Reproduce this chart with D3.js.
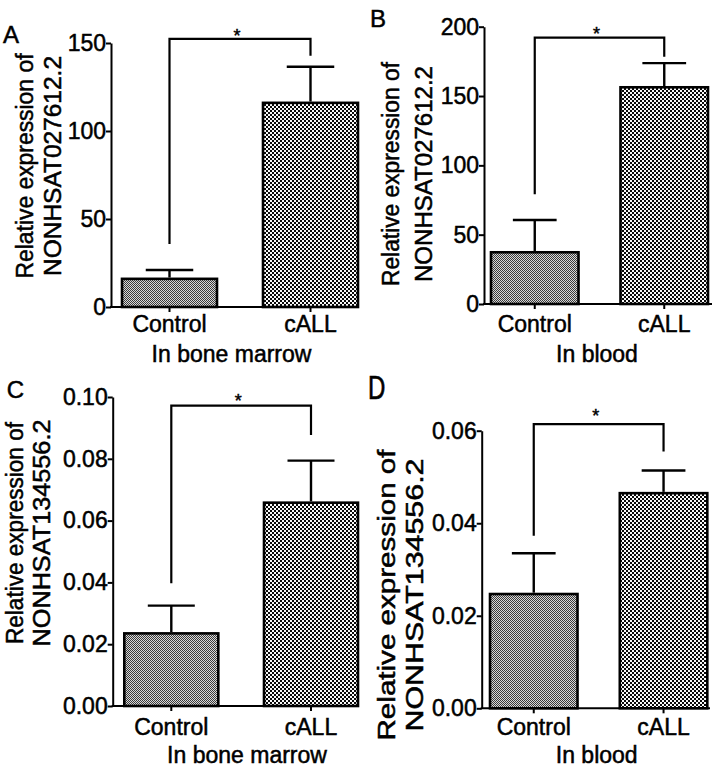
<!DOCTYPE html>
<html>
<head>
<meta charset="utf-8">
<script src="https://cdn.jsdelivr.net/npm/d3@7/dist/d3.min.js"></script>
<style>
  html, body { margin: 0; padding: 0; background: #fff; }
  svg { display: block; }
  text { font-family: "Liberation Sans", Arial, Helvetica, sans-serif; fill: #000; stroke: #000; stroke-width: 0.5px; }
</style>
</head>
<body>
<svg id="chart" width="720" height="771"></svg>
<script>
// ---------------- DATA ----------------
const groups = ["Control", "cALL"];
const panelLetters = ["A", "B", "C", "D"];
const xTitles = ["In bone marrow", "In blood", "In bone marrow", "In blood"];
const yTitleLine1 = "Relative expression of";
const yTitleLine2 = ["NONHSAT027612.2", "NONHSAT027612.2", "NONHSAT134556.2", "NONHSAT134556.2"];

const meanA = [16, 116];
const semA  = [5, 20.5];
const meanB = [37.3, 156.3];
const semB  = [23.3, 17.4];
const meanC = [0.0235, 0.0658];
const semC  = [0.009, 0.0136];
const meanD = [0.0247, 0.0465];
const semD  = [0.0088, 0.0049];

const ticksA = [0, 50, 100, 150];
const ticksB = [0, 50, 100, 150, 200];
const ticksC = [0, 0.02, 0.04, 0.06, 0.08, 0.10];
const ticksD = [0, 0.02, 0.04, 0.06];

// significance bracket: [left end, bracket level, right end]
const sigA = [35.8, 152.3, 142.8];
const sigB = [79.1, 192.1, 178.4];
const sigC = [0.0397, 0.0972, 0.0877];
const sigD = [0.0373, 0.0614, 0.0555];
const sigLabel = "*";

// ---------------- LAYOUT ----------------
const layouts = [
  { yAxisX: 111, yTop: 43, yBottom: 307, barStart: 122, barEnd: 358, bw: 95, xAxisEnd: 358, xPad: 4,
    xTitleX: 231.5, xTitleY: 361.7, t1X: 33, t2X: 61, tCY: 166, t1Len: 225, t2Len: 220,
    letterX: 3, letterY: 42.7, letterSY: 1, starGap: 4, fmt: "d" },
  { yAxisX: 484, yTop: 26.7, yBottom: 304, barStart: 491, barEnd: 708, bw: 87.5, xAxisEnd: 712, xPad: 7,
    xTitleX: 597, xTitleY: 361.7, t1X: 399, t2X: 431.7, tCY: 174, t1Len: 224, t2Len: 216,
    letterX: 370, letterY: 26.7, letterSY: 1, starGap: 5, fmt: "d" },
  { yAxisX: 112.7, yTop: 397, yBottom: 706, barStart: 124.3, barEnd: 358, bw: 94, xAxisEnd: 358, xPad: 7.7,
    xTitleX: 247, xTitleY: 763.3, t1X: 23.3, t2X: 50, tCY: 533, t1Len: 222, t2Len: 227,
    letterX: 6.7, letterY: 398.3, letterSY: 1, starGap: 5.7, fmt: ".2f" },
  { yAxisX: 481.7, yTop: 430.7, yBottom: 708.3, barStart: 490, barEnd: 707.3, bw: 87.5, xAxisEnd: 710, xPad: 5.4,
    xTitleX: 596.7, xTitleY: 763, t1X: 395, t2X: 423.3, tCY: 595, t1Len: 291, t2Len: 273,
    letterX: 368, letterY: 399, letterSY: 1.4, starGap: 10, fmt: ".2f" }
];

const panels = [
  { mean: meanA, sem: semA, ticks: ticksA, sig: sigA },
  { mean: meanB, sem: semB, ticks: ticksB, sig: sigB },
  { mean: meanC, sem: semC, ticks: ticksC, sig: sigC },
  { mean: meanD, sem: semD, ticks: ticksD, sig: sigD }
];

const svg = d3.select("#chart");
svg.append("rect").attr("width", 720).attr("height", 771).attr("fill", "#fff");

// ---------------- PATTERNS ----------------
const defs = svg.append("defs");
const pFine = defs.append("pattern").attr("id", "pFine")
  .attr("patternUnits", "userSpaceOnUse").attr("width", 2).attr("height", 2);
pFine.append("rect").attr("width", 2).attr("height", 2).attr("fill", "#d8d8d8");
pFine.append("rect").attr("width", 1).attr("height", 1).attr("fill", "#3a3a3a");
pFine.append("rect").attr("x", 1).attr("y", 1).attr("width", 1).attr("height", 1).attr("fill", "#3a3a3a");

const pCoarse = defs.append("pattern").attr("id", "pCoarse")
  .attr("patternUnits", "userSpaceOnUse").attr("width", 4).attr("height", 4);
pCoarse.append("rect").attr("width", 4).attr("height", 4).attr("fill", "#fafafa");
pCoarse.append("rect").attr("width", 2).attr("height", 2).attr("fill", "#0a0a0a");
pCoarse.append("rect").attr("x", 2).attr("y", 2).attr("width", 2).attr("height", 2).attr("fill", "#0a0a0a");

const fills = ["url(#pFine)", "url(#pCoarse)"];

// ---------------- DRAW ----------------
panels.forEach((p, i) => {
  const L = layouts[i];
  const g = svg.append("g");
  const range = L.barEnd - L.barStart;
  const pin = (range - 2 * L.bw) / (range - L.bw);
  const x = d3.scaleBand().domain(groups).range([L.barStart, L.barEnd]).paddingInner(pin).paddingOuter(0);
  const y = d3.scaleLinear().domain([0, d3.max(p.ticks)]).range([L.yBottom, L.yTop]);
  const bw = x.bandwidth();
  const cx = d => x(d) + bw / 2;

  // bars
  g.selectAll("rect.bar").data(groups).join("rect")
    .attr("class", "bar")
    .attr("x", d => x(d))
    .attr("y", (d, j) => y(p.mean[j]))
    .attr("width", bw)
    .attr("height", (d, j) => y(0) - y(p.mean[j]))
    .attr("fill", (d, j) => fills[j])
    .attr("stroke", "#000").attr("stroke-width", 2.6);

  // error bars (upper only)
  g.selectAll("line.err").data(groups).join("line")
    .attr("class", "err")
    .attr("x1", d => cx(d)).attr("x2", d => cx(d))
    .attr("y1", (d, j) => y(p.mean[j]) - 1.3)
    .attr("y2", (d, j) => y(p.mean[j] + p.sem[j]))
    .attr("stroke", "#000").attr("stroke-width", 2.4);
  g.selectAll("line.cap").data(groups).join("line")
    .attr("class", "cap")
    .attr("x1", d => cx(d) - bw / 4).attr("x2", d => cx(d) + bw / 4)
    .attr("y1", (d, j) => y(p.mean[j] + p.sem[j]))
    .attr("y2", (d, j) => y(p.mean[j] + p.sem[j]))
    .attr("stroke", "#000").attr("stroke-width", 2.4);

  // y axis
  const yAxis = d3.axisLeft(y).tickValues(p.ticks).tickSize(5).tickPadding(0).tickSizeOuter(0)
    .tickFormat(d3.format(L.fmt));
  const ya = g.append("g").attr("transform", `translate(${L.yAxisX},0)`).call(yAxis);
  ya.select(".domain").attr("stroke", "#000").attr("stroke-width", 2);
  ya.selectAll(".tick line").attr("stroke", "#000").attr("stroke-width", 2);
  ya.selectAll(".tick text").attr("font-size", 23).attr("font-family", null).attr("fill", "#000");

  // x axis
  g.append("line")
    .attr("x1", L.yAxisX - 1).attr("x2", L.xAxisEnd)
    .attr("y1", L.yBottom).attr("y2", L.yBottom)
    .attr("stroke", "#000").attr("stroke-width", 2);
  const xAxis = d3.axisBottom(x).tickSize(5).tickPadding(L.xPad).tickSizeOuter(0);
  const xa = g.append("g").attr("transform", `translate(0,${L.yBottom})`).call(xAxis);
  xa.select(".domain").remove();
  xa.selectAll(".tick line").attr("stroke", "#000").attr("stroke-width", 2);
  xa.selectAll(".tick text").attr("font-size", 23).attr("font-family", null).attr("fill", "#000");

  // x title
  g.append("text").attr("x", L.xTitleX).attr("y", L.xTitleY)
    .attr("text-anchor", "middle").attr("font-size", 23).text(xTitles[i]);

  // y title (two lines)
  g.append("text")
    .attr("transform", `translate(${L.t1X},${L.tCY}) rotate(-90)`)
    .attr("text-anchor", "middle").attr("font-size", 23)
    .attr("textLength", L.t1Len).attr("lengthAdjust", "spacingAndGlyphs")
    .text(yTitleLine1);
  g.append("text")
    .attr("transform", `translate(${L.t2X},${L.tCY}) rotate(-90)`)
    .attr("text-anchor", "middle").attr("font-size", 23)
    .attr("textLength", L.t2Len).attr("lengthAdjust", "spacingAndGlyphs")
    .text(yTitleLine2[i]);

  // significance bracket
  const x0 = cx(groups[0]), x1 = cx(groups[1]);
  const by = y(p.sig[1]);
  g.append("path")
    .attr("d", `M${x0},${y(p.sig[0])}V${by}H${x1}V${y(p.sig[2])}`)
    .attr("fill", "none").attr("stroke", "#000").attr("stroke-width", 2.2);
  g.append("text")
    .attr("x", (x0 + x1) / 2 - 3)
    .attr("y", by - L.starGap + 7.4)
    .attr("text-anchor", "middle").attr("font-size", 18)
    .text(sigLabel);

  // panel letter
  g.append("text")
    .attr("transform", `translate(${L.letterX},${L.letterY}) scale(1,${L.letterSY})`)
    .attr("font-size", 24)
    .text(panelLetters[i]);
});
</script>
</body>
</html>
